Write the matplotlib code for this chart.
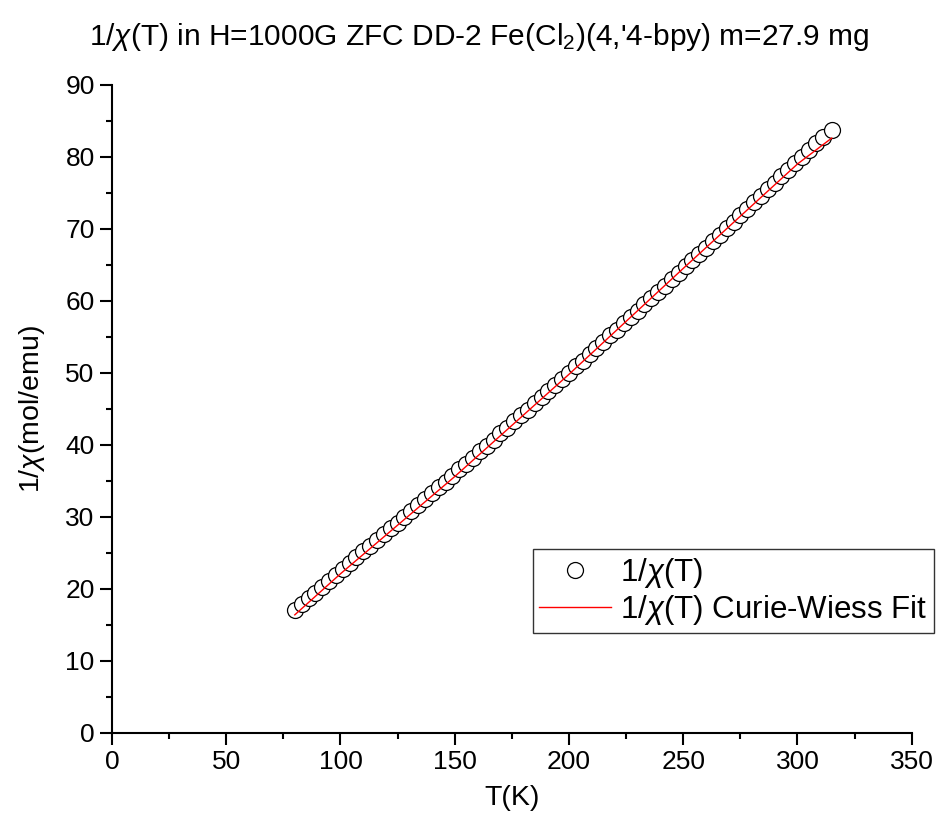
import matplotlib
matplotlib.use("Agg")
import matplotlib.pyplot as plt
from matplotlib.ticker import MultipleLocator

plt.rcParams['font.family'] = ['Liberation Sans', 'DejaVu Sans']
plt.rcParams['mathtext.fontset'] = 'custom'
plt.rcParams['mathtext.rm'] = 'Liberation Sans'
plt.rcParams['mathtext.it'] = 'Liberation Sans:italic'

temp = [80, 83, 86, 89, 92, 95, 98, 101, 104, 107, 110, 113, 116, 119, 122,
        125, 128, 131, 134, 137, 140, 143, 146, 149, 152, 155, 158, 161, 164,
        167, 170, 173, 176, 179, 182, 185, 188, 191, 194, 197, 200, 203, 206,
        209, 212, 215, 218, 221, 224, 227, 230, 233, 236, 239, 242, 245, 248,
        251, 254, 257, 260, 263, 266, 269, 272, 275, 278, 281, 284, 287, 290,
        293, 296, 299, 302, 305, 308, 311, 315]
inv_chi = [17.1, 17.9, 18.7, 19.5, 20.3, 21.1, 21.9, 22.8, 23.6, 24.4, 25.2,
           26.0, 26.8, 27.6, 28.4, 29.2, 30.0, 30.8, 31.7, 32.5, 33.3, 34.1,
           34.9, 35.7, 36.6, 37.4, 38.2, 39.1, 39.9, 40.7, 41.6, 42.4, 43.3,
           44.1, 44.9, 45.8, 46.6, 47.5, 48.3, 49.2, 50.0, 50.9, 51.7, 52.6,
           53.4, 54.3, 55.2, 56.0, 56.9, 57.8, 58.6, 59.5, 60.4, 61.2, 62.1,
           63.0, 63.9, 64.8, 65.7, 66.5, 67.4, 68.3, 69.2, 70.1, 71.0, 71.9,
           72.8, 73.7, 74.6, 75.5, 76.4, 77.3, 78.2, 79.1, 80.0, 81.0, 81.9,
           82.8, 83.7]

# Curie-Weiss fit curve
fit_temp = [80, 100, 150, 200, 250, 300, 315]
fit_inv_chi = [16.4, 22.1, 35.6, 49.8, 64.5, 79.0, 82.6]

fig = plt.figure(figsize=(9.38, 8.31), dpi=100)
ax = fig.add_axes([0.1194, 0.118, 0.8526, 0.780])

ax.plot(temp, inv_chi, 'o', ms=11.5, mfc='white', mec='black', mew=0.9,
        label=r'1/$\chi$(T)', zorder=2)
ax.plot(fit_temp, fit_inv_chi, '-', color='#ff0000', lw=1.0,
        label=r'1/$\chi$(T) Curie-Wiess Fit', zorder=3)

ax.set_xlim(0, 350)
ax.set_ylim(0, 90)
ax.xaxis.set_major_locator(MultipleLocator(50))
ax.xaxis.set_minor_locator(MultipleLocator(25))
ax.yaxis.set_major_locator(MultipleLocator(10))
ax.yaxis.set_minor_locator(MultipleLocator(5))

for s in ['top', 'right']:
    ax.spines[s].set_visible(False)
for s in ['left', 'bottom']:
    ax.spines[s].set_linewidth(1.5)
ax.tick_params(which='major', direction='out', length=8.5, width=1.5,
               labelsize=19, pad=4)
ax.tick_params(which='minor', direction='out', length=4.3, width=1.5)

ax.set_xlabel('T(K)', fontsize=20.5, labelpad=8)
ax.set_ylabel(r'1/$\chi$(mol/emu)', fontsize=20.5, labelpad=13)

fig.text(0.511, 0.955,
         r"1/$\chi$(T) in H=1000G ZFC DD-2 Fe(Cl$_2$)(4,'4-bpy) m=27.9 mg",
         ha='center', va='center', fontsize=21.5)

leg = ax.legend(loc='upper left', bbox_to_anchor=(0.568, 0.339),
                bbox_transform=fig.transFigure, borderaxespad=0,
                fontsize=22.5, frameon=True, fancybox=False, handlelength=2.3,
                handletextpad=0.3, borderpad=0.2, labelspacing=0.1)
leg.get_frame().set_edgecolor('black')
leg.get_frame().set_linewidth(1.0)

fig.savefig('out.png', dpi=100)
